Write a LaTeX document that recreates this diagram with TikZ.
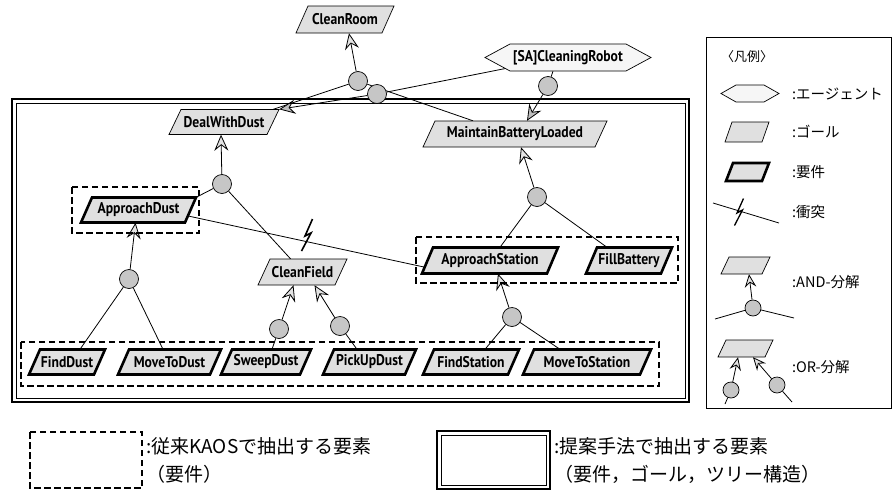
\documentclass[tikz,border=0pt]{standalone}
\usepackage{fontspec}
\setmainfont{PT Sans}
\newfontfamily\lab{PT Sans}[FakeStretch=0.88]
\newfontfamily\jp{Noto Sans CJK JP}
\usetikzlibrary{arrows.meta,calc}
\pgfdeclarelayer{background}
\pgfsetlayers{background,main}
\tikzset{
 lbl/.style={inner sep=0pt, font=\lab\bfseries\fontsize{15.5}{15.5}\selectfont},
 goalshape/.style={draw, line width=0.7pt, fill=gray!24},
 reqshape/.style={draw, line width=2.6pt, fill=gray!24},
 agentshape/.style={draw, line width=0.7pt, fill=gray!7},
 andc/.style={circle, draw, line width=0.7pt, fill=gray!45, minimum size=19pt, inner sep=0pt},
 landc/.style={andc, minimum size=16pt},
 refarr/.style={line width=0.8pt, -{Stealth[length=16pt, width=14pt, inset=5.5pt, fill=gray!22]}},
 agarr/.style={line width=0.8pt, -{Stealth[length=16pt, width=14pt, inset=5.5pt, fill=gray!50]}},
 lrefarr/.style={line width=0.8pt, -{Stealth[length=13pt, width=11.5pt, inset=4.5pt, fill=gray!22]}},
 conn/.style={line width=0.8pt},
 kaos/.style={line width=1.9pt, dash pattern=on 6.5pt off 3.5pt},
 jpt/.style={inner sep=0pt, anchor=west, font=\jp\fontsize{14.5}{15}\selectfont},
 jpb/.style={inner sep=0pt, anchor=west, font=\jp\fontsize{19}{20}\selectfont},
}
% #1 style, #2 name, #3 x, #4 y, #5 width, #6 height, #7 slant, #8 text
\newcommand\kbox[8]{%
 \draw[#1] ({#3-#5/2},{#4+#6/2}) -- ({#3-#5/2+#7},{#4-#6/2}) -- ({#3+#5/2},{#4-#6/2}) -- ({#3+#5/2-#7},{#4+#6/2}) -- cycle;
 \node[lbl, minimum width=#5 pt, minimum height=#6 pt] (#2) at (#3,#4) {#8};}
\begin{document}
\begin{tikzpicture}[x=1pt,y=-1pt]
\useasboundingbox (0,0) rectangle (892,496);
% frames
\draw[line width=2.2pt] (12,99) rectangle (689,402);
\draw[line width=0.8pt] (16,103) rectangle (685,398);
\draw[line width=0.9pt] (706,37) rectangle (891,408);
% agent
\draw[agentshape] (485,57.5) -- (510,44) -- (626,44) -- (651,57.5) -- (626,71) -- (510,71) -- cycle;
\node[lbl, minimum width=166pt, minimum height=27pt] (rob) at (568,57.5) {[SA]CleaningRobot};
% goals
\kbox{goalshape}{cr}{345}{19.5}{98}{27}{12}{CleanRoom}
\kbox{goalshape}{dwd}{224}{122}{110}{25}{12}{DealWithDust}
\kbox{goalshape}{mbl}{515}{134}{184}{26}{12}{MaintainBatteryLoaded}
\kbox{goalshape}{cf}{302.5}{272}{89}{26}{12}{CleanField}
% requirements
\kbox{reqshape}{ad}{138.5}{210}{115}{25}{11}{ApproachDust}
\kbox{reqshape}{as}{490}{260.5}{136}{26}{11}{ApproachStation}
\kbox{reqshape}{fb}{629}{260.5}{86}{26}{11}{FillBattery}
\kbox{reqshape}{fd}{67}{362}{76}{25}{11}{FindDust}
\kbox{reqshape}{mtd}{169.5}{362}{103}{25}{11}{MoveToDust}
\kbox{reqshape}{sd}{266}{362}{90}{25}{11}{SweepDust}
\kbox{reqshape}{pud}{369.5}{362}{93}{25}{11}{PickUpDust}
\kbox{reqshape}{fs}{471}{362}{96}{25}{11}{FindStation}
\kbox{reqshape}{mts}{587}{362}{128}{25}{11}{MoveToStation}
% AND circles
\node[andc] (c1) at (358,81) {};
\node[andc] (c2) at (377,94) {};
\node[andc] (c3) at (548,86) {};
\node[andc] (cdwd) at (222,184) {};
\node[andc] (cad) at (129,279) {};
\node[andc] (csd) at (279,329) {};
\node[andc] (cpd) at (340,326) {};
\node[andc] (cmbl) at (537,197) {};
\node[andc] (cas) at (512,317) {};
% dashed KAOS boxes
\draw[kaos] (72,187) rectangle (199,233);
\draw[kaos] (416,237) rectangle (678,283);
\draw[kaos] (21,342) rectangle (659,386);
\begin{pgfonlayer}{background}
\draw[refarr] (c1) -- ([xshift=4pt]cr.south);
\draw[conn] (c1) -- ([xshift=-6pt]dwd.north east);
\draw[conn] (c1) -- ([xshift=-42pt]mbl.north);
\draw[conn] ([xshift=-56pt,yshift=4pt]rob.south) -- (c2);
\draw[agarr] (c2) -- (dwd.north east);
\draw[conn] ([xshift=-15pt]rob.south) -- (c3);
\draw[agarr] (c3) -- ([xshift=12pt]mbl.north);
\draw[refarr] (cdwd) -- ([xshift=-3pt]dwd.south);
\draw[conn] (cdwd) -- (ad.north east);
\draw[conn] (cdwd) -- ([xshift=-12pt]cf.north);
\draw[refarr] (cad) -- ([xshift=-3pt]ad.south);
\draw[conn] (cad) -- ([xshift=13pt]fd.north);
\draw[conn] (cad) -- ([xshift=-6.5pt]mtd.north);
\draw[refarr] (csd) -- ([xshift=-9pt]cf.south);
\draw[conn] (csd) -- ([xshift=6pt]sd.north);
\draw[refarr] (cpd) -- ([xshift=12pt]cf.south);
\draw[conn] (cpd) -- ([xshift=-12.5pt]pud.north);
\draw[refarr] (cmbl) -- ([xshift=6pt]mbl.south);
\draw[conn] (cmbl) -- ([xshift=10pt]as.north);
\draw[conn] (cmbl) -- ([xshift=-22pt]fb.north);
\draw[refarr] (cas) -- ([xshift=8pt]as.south);
\draw[conn] (cas) -- ([xshift=14pt]fs.north);
\draw[conn] (cas) -- ([xshift=-27pt]mts.north);
% conflict
\draw[conn] ([xshift=-8pt,yshift=-6pt]ad.east) -- ([xshift=9pt,yshift=-8pt]as.west);
\end{pgfonlayer}
\draw[line width=1.6pt, line join=miter] (312.5,219) -- (305,236) -- (311,233) -- (301.5,251);
% ---------- legend ----------
\node[jpt, font=\jp\fontsize{13}{13}\selectfont] (lt) at (721,57) {〈凡例〉};
\draw[agentshape] (721,93.5) -- (736,85) -- (764,85) -- (779,93.5) -- (764,102) -- (736,102) -- cycle;
\node[minimum width=58pt, minimum height=17pt, inner sep=0pt] (lhex) at (750,93.5) {};
\node[jpt] (lt1) at (792,94) {:エージェント};
\kbox{goalshape}{lg}{747}{132}{44}{20}{7}{}
\node[jpt] (lt2) at (792,132) {:ゴール};
\kbox{reqshape}{lr}{747.5}{172}{43}{18}{7}{}
\node[jpt] (lt3) at (792,172) {:要件};
\coordinate (lc1) at (713,203);
\coordinate (lc2) at (779,223);
\draw[conn] (lc1) -- (lc2);
\draw[line width=1.3pt, line join=miter] (743.5,198.5) -- (737,213) -- (742.5,210) -- (734.5,225.5);
\node[jpt] (lt4) at (792,212) {:衝突};
\kbox{goalshape}{la}{745.5}{265.5}{49}{17}{8}{}
\node[landc] (lac) at (753,308) {};
\coordinate (la1) at (715,319);
\coordinate (la2) at (794,318);
\node[jpt] (lt5) at (792,282) {:AND-分解};
\kbox{goalshape}{lo}{745.5}{348.5}{55}{17}{8}{}
\node[landc] (loc1) at (731,390) {};
\node[landc] (loc2) at (777,385) {};
\coordinate (lo1) at (725,404);
\coordinate (lo2) at (792,402);
\node[jpt] (lt6) at (792,367) {:OR-分解};
\begin{pgfonlayer}{background}
\draw[lrefarr] (lac) -- ([xshift=3.5pt]la.south);
\draw[conn] (lac) -- (la1);
\draw[conn] (lac) -- (la2);
\draw[lrefarr] (loc1) -- ([xshift=-7.5pt]lo.south);
\draw[conn] (loc1) -- (lo1);
\draw[lrefarr] (loc2) -- ([xshift=7.5pt]lo.south);
\draw[conn] (loc2) -- (lo2);
\end{pgfonlayer}
% ---------- bottom legend ----------
\draw[kaos] (30,432) rectangle (142,488);
\node[jpb] (bt1) at (146,446) {:従来KAOSで抽出する要素};
\node[jpb] (bt2) at (146,474) {（要件）};
\draw[line width=2.2pt] (437,431) rectangle (550,489);
\draw[line width=0.8pt] (441,435) rectangle (546,485);
\node[jpb] (bt3) at (554,446) {:提案手法で抽出する要素};
\node[jpb] (bt4) at (554,474) {（要件，ゴール，ツリー構造）};
\end{tikzpicture}
\end{document}
